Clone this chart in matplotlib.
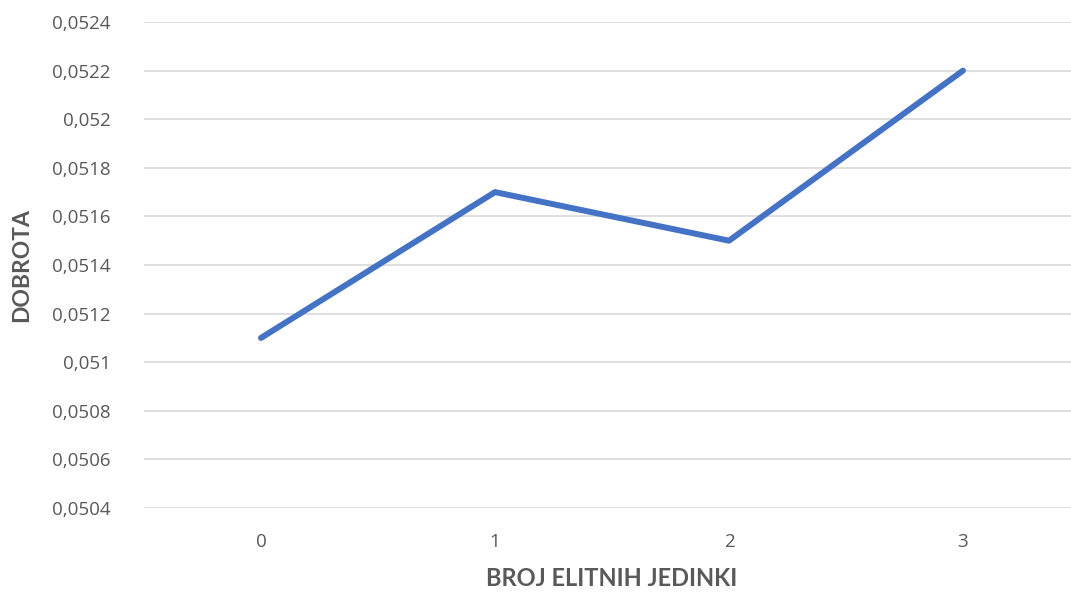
import matplotlib
matplotlib.use("Agg")
import matplotlib.pyplot as plt
from matplotlib.ticker import FuncFormatter

categories = ["0", "1", "2", "3"]
values = [0.0511, 0.0517, 0.0515, 0.0522]
yticks = [0.0504, 0.0506, 0.0508, 0.0510, 0.0512, 0.0514, 0.0516, 0.0518, 0.0520, 0.0522, 0.0524]
xlabel = "BROJ ELITNIH JEDINKI"
ylabel = "DOBROTA"

W, H = 1071, 593
fig = plt.figure(figsize=(W / 100, H / 100), dpi=100)
left, right = 144, 1071
top, bottom = 22, 508
ax = fig.add_axes([left / W, (H - bottom) / H, (right - left) / W, (bottom - top) / H])

x = list(range(len(categories)))
ax.plot(x, values, color="#4472C4", lw=4.3, solid_capstyle="round", solid_joinstyle="round", zorder=3)

ax.set_xlim(-0.5, 3.5 - 9 / 234)
ax.set_ylim(0.0504, 0.0524)
ax.set_yticks(yticks)
ax.set_xticks(x)
ax.set_xticklabels(categories)

def fmt(v, pos):
    s = ("%.4f" % v).rstrip("0")
    return s.replace(".", ",")
ax.yaxis.set_major_formatter(FuncFormatter(fmt))

ax.grid(axis="y", color="#D9D9D9", lw=1.2)
ax.set_axisbelow(True)
for sp in ax.spines.values():
    sp.set_visible(False)
ax.tick_params(axis="both", length=0, labelsize=13.5, labelcolor="#595959")
ax.tick_params(axis="y", pad=24)
ax.tick_params(axis="x", pad=18)
for lab in ax.get_xticklabels() + ax.get_yticklabels():
    lab.set_family("Open Sans")

fig.text(612 / W, 1 - 578 / H, xlabel, ha="center", va="center", fontsize=17,
         fontweight="bold", color="#595959", family="Lato")
fig.text(22 / W, 1 - 265 / H, ylabel, ha="center", va="center", fontsize=16.5,
         fontweight="bold", color="#595959", family="Lato", rotation=90)

fig.savefig("out.png", dpi=100)
